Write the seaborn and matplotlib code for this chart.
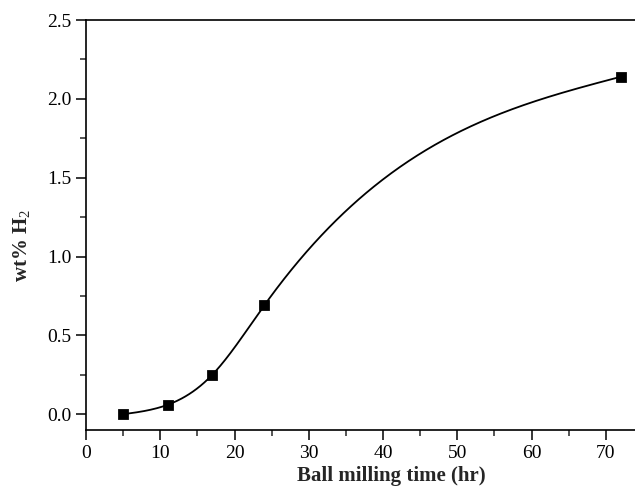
import numpy as np
import pandas as pd
import seaborn as sns
import matplotlib.pyplot as plt

# measured points
milling_time = [5, 11, 17, 24, 72]
wt_h2 = [0.0, 0.06, 0.25, 0.69, 2.14]


def natural_spline(xk, yk, xs):
    # natural cubic spline through the points (second derivative 0 at the ends)
    xk = np.asarray(xk, float)
    yk = np.asarray(yk, float)
    n = len(xk)
    h = np.diff(xk)
    A = np.zeros((n, n))
    b = np.zeros(n)
    A[0, 0] = A[-1, -1] = 1
    for i in range(1, n - 1):
        A[i, i - 1] = h[i - 1]
        A[i, i] = 2 * (h[i - 1] + h[i])
        A[i, i + 1] = h[i]
        b[i] = 6 * ((yk[i + 1] - yk[i]) / h[i] - (yk[i] - yk[i - 1]) / h[i - 1])
    M = np.linalg.solve(A, b)
    idx = np.clip(np.searchsorted(xk, xs) - 1, 0, n - 2)
    x0, x1 = xk[idx], xk[idx + 1]
    hh = x1 - x0
    t0, t1 = x1 - xs, xs - x0
    return (M[idx] * t0 ** 3 / (6 * hh) + M[idx + 1] * t1 ** 3 / (6 * hh)
            + (yk[idx] / hh - M[idx] * hh / 6) * t0
            + (yk[idx + 1] / hh - M[idx + 1] * hh / 6) * t1)


xs = np.linspace(min(milling_time), max(milling_time), 400)
fit = pd.DataFrame({"t": xs, "h2": natural_spline(milling_time, wt_h2, xs)})
pts = pd.DataFrame({"t": milling_time, "h2": wt_h2})

sns.set_style("ticks")
plt.rcParams['font.family'] = ['Liberation Serif', 'DejaVu Serif']
plt.rcParams['mathtext.fontset'] = 'custom'
plt.rcParams['mathtext.rm'] = 'Liberation Serif'
plt.rcParams['mathtext.bf'] = 'Liberation Serif:bold'

fig = plt.figure(figsize=(6.35, 4.87), dpi=100)
ax = fig.add_axes([86 / 635, 57 / 487, 557 / 635, 410 / 487])

sns.lineplot(data=fit, x="t", y="h2", ax=ax, color="black", lw=1.3)
sns.scatterplot(data=pts, x="t", y="h2", ax=ax, marker="s", color="black", s=50, edgecolor="black", zorder=3)

ax.set_xlim(0, 75)
ax.set_ylim(-0.1, 2.5)
ax.set_xticks(np.arange(0, 71, 10))
ax.set_xticks(np.arange(5, 75, 10), minor=True)
ax.set_yticks(np.arange(0, 2.51, 0.5))
ax.set_yticks(np.arange(0.25, 2.5, 0.5), minor=True)
ax.set_yticklabels(["%.1f" % v for v in np.arange(0, 2.51, 0.5)])
ax.tick_params(which="major", direction="out", length=7, width=1.1, labelsize=14, colors="black")
ax.tick_params(which="minor", direction="out", length=4, width=1.1)
for sp in ax.spines.values():
    sp.set_linewidth(1.2)
    sp.set_color("black")

ax.set_xlabel("Ball milling time (hr)", fontsize=15, fontweight="bold")
ax.xaxis.set_label_coords(0.548, -0.088)
ax.set_ylabel(r"wt% H$_\mathrm{2}$", fontsize=15, fontweight="bold")
ax.yaxis.set_label_coords(-0.095, 0.45)

fig.savefig("out.png", dpi=100)
